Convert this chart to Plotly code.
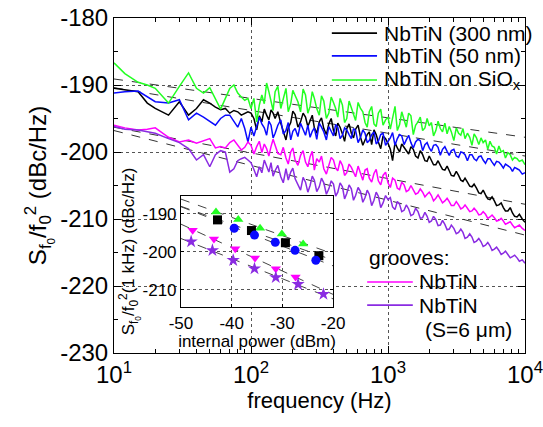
import numpy as np
import plotly.graph_objects as go

# ---------------- main spectra (frequency in Hz, noise in dBc/Hz) -------------
freq = [10, 12, 15, 17.5, 20, 25, 30, 35, 40, 45, 50, 55, 60, 65, 70, 75, 80, 85, 90, 95,
        100, 105, 110, 115, 120, 125, 130, 135, 140, 145, 150, 157, 165, 172, 180, 187, 195, 202,
        210, 220, 230, 240, 250, 260, 270, 280, 290, 302, 315, 327, 340, 355, 370, 385, 400, 415,
        430, 447, 465, 482, 500, 520, 540, 560, 580, 605, 630, 655, 680, 705, 730, 760, 790, 820,
        850, 885, 920, 960, 1000,
        1040, 1080, 1125, 1170, 1215, 1260, 1310, 1360, 1415, 1470, 1530, 1590, 1655, 1720, 1790,
        1860, 1930, 2000, 2075, 2150, 2235, 2320, 2410, 2500, 2600, 2700, 2800, 2900, 3025, 3150,
        3275, 3400, 3525, 3650, 3800, 3950, 4100, 4250, 4425, 4600, 4775, 4950, 5150, 5350, 5550,
        5750, 5975, 6200, 6450, 6700, 6950, 7200, 7500, 7800, 8100, 8400, 8750, 9100, 9550, 10000]

nbtin_siox = [-186.7, -188.3, -189.6, -190.0, -190.5, -192.7, -190.2, -188.2, -190.5, -191.2,
              -190.4, -192.0, -193.6, -192.0, -190.5, -190.0, -191.2, -191.8, -192.3, -192.0,
              -193.5, -192.0, -195.5, -193.0, -191.5, -192.8, -189.7, -191.0, -192.5, -193.8,
              -191.0, -190.2, -193.5, -192.0, -190.5, -194.0, -192.8, -190.8, -191.6, -192.5,
              -194.0, -190.6, -191.5, -194.2, -193.2, -191.0, -192.0, -193.5, -194.5, -191.6,
              -192.4, -195.0, -194.2, -191.8, -192.6, -193.5, -194.8, -192.0, -193.0, -195.6,
              -195.0, -192.4, -193.4, -194.3, -195.3, -192.6, -193.5, -194.0, -195.6, -196.3,
              -194.0, -193.2, -195.8, -196.2, -194.2, -193.6, -196.0, -195.2, -194.8,
              -196.6, -195.0, -193.2, -196.8, -195.9, -194.0, -195.1, -196.3, -194.2, -194.6,
              -197.4, -196.0, -195.5, -194.8, -196.8, -196.4, -195.0, -196.1, -195.6, -197.6,
              -196.8, -195.4, -196.5, -197.0, -195.7, -197.3, -196.2, -197.0, -198.3, -196.4,
              -197.2, -197.5, -196.5, -198.0, -197.2, -197.8, -199.0, -197.3, -197.9, -198.9,
              -197.9, -198.6, -198.2, -199.6, -198.4, -199.1, -199.3, -200.3, -199.1, -200.0,
              -199.8, -200.9, -200.1, -200.4, -201.2, -200.8, -201.0, -201.4, -201.2, -201.9]

nbtin_50 = [-191.2, -191.0, -190.9, -191.8, -192.5, -192.7, -192.2, -195.2, -194.2, -194.8,
            -195.5, -196.0, -195.0, -194.5, -194.5, -195.5, -196.3, -195.0, -196.5, -198.5,
            -196.3, -197.6, -196.0, -194.8, -195.8, -196.4, -197.5, -195.4, -196.0, -197.9,
            -197.2, -196.0, -195.2, -197.3, -196.8, -195.6, -198.2, -196.9, -196.5, -197.7,
            -195.7, -196.6, -197.5, -196.0, -197.8, -196.9, -196.4, -198.1, -195.7, -196.3,
            -197.0, -198.2, -196.2, -196.9, -197.6, -195.9, -196.3, -198.0, -197.5, -196.4,
            -196.7, -197.4, -198.0, -196.5, -196.8, -198.6, -197.8, -196.7, -197.2, -198.6,
            -198.3, -197.4, -197.0, -198.8, -198.4, -197.4, -197.2, -199.0, -198.5,
            -197.9, -197.1, -199.0, -198.0, -197.4, -197.6, -198.9, -198.2, -197.5, -198.6,
            -199.4, -198.5, -198.1, -198.3, -199.8, -198.9, -198.6, -199.4, -199.9, -199.0,
            -198.9, -199.3, -200.5, -199.6, -199.2, -199.9, -200.5, -199.8, -199.6, -200.6,
            -200.8, -200.0, -200.1, -200.4, -201.3, -200.4, -200.4, -201.0, -201.3, -200.7,
            -200.6, -201.2, -201.7, -201.0, -201.0, -201.5, -202.0, -201.4, -201.5, -201.9,
            -202.4, -201.8, -202.0, -202.3, -202.9, -202.3, -202.5, -202.7, -203.3, -203.1]

nbtin_300 = [-190.5, -190.7, -191.0, -192.7, -193.5, -194.5, -192.5, -194.5, -193.5, -192.2,
             -192.7, -193.3, -193.7, -193.5, -194.2, -193.8, -194.0, -194.5, -194.3, -194.0,
             -194.2, -195.0, -196.7, -194.6, -195.5, -193.6, -194.5, -195.2, -193.7, -194.2,
             -195.0, -194.0, -195.7, -196.8, -198.2, -196.4, -195.6, -193.9, -194.4, -196.3,
             -195.5, -194.2, -194.8, -196.2, -195.3, -194.5, -196.4, -197.2, -195.5, -194.9,
             -196.5, -197.4, -195.8, -195.0, -196.8, -197.6, -195.7, -196.3, -197.3, -198.4,
             -196.5, -195.8, -197.2, -197.9, -196.6, -196.0, -197.8, -199.0, -198.2, -197.4,
             -197.0, -198.9, -196.7, -197.4, -198.5, -199.5, -197.6, -198.0, -198.7,
             -199.6, -201.3, -198.6, -199.4, -200.0, -198.8, -199.3, -199.9, -200.3, -199.2,
             -199.6, -200.6, -200.9, -199.8, -200.4, -201.3, -201.4, -200.6, -201.2, -201.9,
             -201.9, -201.3, -202.0, -202.6, -202.7, -202.1, -202.8, -203.5, -203.6, -202.9,
             -203.5, -204.2, -204.4, -203.9, -204.5, -205.1, -205.2, -204.8, -205.4, -206.1,
             -206.2, -205.7, -206.4, -207.0, -207.1, -206.7, -207.3, -208.0, -207.9, -207.6,
             -208.3, -208.8, -208.8, -208.3, -209.1, -209.6, -209.7, -209.3, -210.0, -210.5]

grooves = [-196.0, -196.4, -196.7, -196.6, -196.4, -197.8, -198.5, -198.2, -198.7, -198.3,
           -198.0, -199.4, -199.2, -199.4, -198.6, -198.2, -199.0, -199.7, -199.3, -198.5,
           -199.0, -200.3, -199.2, -198.4, -200.1, -198.8, -199.5, -200.6, -199.2, -198.1,
           -199.0, -200.2, -200.4, -199.3, -200.9, -201.8, -200.0, -199.4, -201.2, -202.0,
           -200.5, -199.8, -201.5, -202.2, -200.7, -199.9, -202.7, -201.0, -201.5, -200.6,
           -202.5, -203.3, -202.0, -200.8, -201.2, -202.4, -202.8, -201.3, -202.0, -203.5,
           -203.1, -201.8, -202.3, -203.0, -203.7, -202.1, -203.2, -204.2, -202.7, -202.5,
           -203.9, -204.5, -203.2, -202.6, -204.3, -204.9, -203.5, -203.0, -204.6,
           -205.3, -203.9, -204.2, -205.4, -205.6, -204.5, -204.9, -205.9, -205.7, -205.0,
           -205.6, -206.3, -206.1, -205.5, -206.0, -206.7, -206.3, -206.0, -206.5, -207.3,
           -206.9, -206.4, -207.0, -207.6, -207.3, -206.9, -207.4, -208.0, -208.0, -207.4,
           -207.9, -208.5, -208.3, -207.9, -208.4, -208.9, -208.8, -208.4, -208.8, -209.4,
           -209.3, -208.9, -209.3, -209.9, -209.7, -209.4, -209.8, -210.3, -210.2, -209.9,
           -210.3, -210.8, -210.6, -210.4, -210.9, -211.3, -211.1, -210.9, -211.4, -211.7]

grooves_s6 = [-196.2, -196.6, -196.7, -197.0, -197.2, -198.0, -198.6, -199.5, -201.2, -200.4,
              -202.2, -200.4, -199.8, -200.0, -203.0, -202.5, -201.3, -201.0, -200.8, -201.2,
              -201.6, -202.6, -203.7, -202.2, -203.1, -201.2, -202.0, -203.0, -201.6, -203.6,
              -202.8, -202.0, -203.7, -204.6, -202.5, -204.2, -203.0, -202.4, -204.0, -204.8,
              -205.7, -203.8, -204.5, -206.0, -205.0, -203.6, -204.2, -205.9, -205.2, -203.9,
              -204.6, -206.3, -205.5, -204.3, -204.8, -206.6, -206.0, -204.6, -205.2, -207.0,
              -206.2, -204.9, -205.5, -207.2, -206.5, -205.3, -205.9, -207.5, -206.8, -205.7,
              -206.3, -208.0, -207.2, -206.0, -206.6, -208.3, -207.6, -206.5, -207.1,
              -206.8, -208.2, -208.6, -207.4, -207.8, -208.9, -208.7, -207.9, -208.5, -209.5,
              -209.3, -208.4, -208.9, -209.9, -209.8, -209.0, -209.6, -210.5, -210.3, -209.6,
              -210.1, -211.0, -210.9, -210.2, -210.8, -211.6, -211.5, -210.9, -211.4, -212.2,
              -212.0, -211.5, -212.0, -212.9, -212.7, -212.2, -212.7, -213.5, -213.3, -212.9,
              -213.4, -214.1, -213.9, -213.5, -214.0, -214.7, -214.5, -214.2, -214.7, -215.3,
              -215.1, -214.8, -215.3, -215.8, -215.6, -215.4, -215.8, -216.3, -216.1, -216.6]

for _s in (nbtin_siox, nbtin_50, nbtin_300, grooves, grooves_s6):
    assert len(_s) == len(freq), (len(_s), len(freq))

# straight 1/f fits in the main panel (values at 10 Hz and 10 kHz)
fit_freq = [10, 10000]
fit_lines = [[-189.1, -197.8], [-190.4, -200.6], [-196.3, -207.8], [-196.8, -212.4]]

# tick labels
x_tickvals = [10, 100, 1000, 10000]
x_ticktext = ["10<sup>1</sup>", "10<sup>2</sup>", "10<sup>3</sup>", "10<sup>4</sup>"]
y_tickvals = [-180, -190, -200, -210, -220, -230]
y_ticktext = ["-180", "-190", "-200", "-210", "-220", "-230"]

# ---------------- inset: noise at 1 kHz vs internal power -------------------
p_siox = [-43.1, -38.7, -34.4, -30.1, -25.9]
n_siox = [-189.5, -191.5, -193.8, -195.3, -197.9]
p_300 = [-42.8, -36.1, -29.4, -22.8]
n_300 = [-191.6, -194.4, -197.6, -201.0]
p_50 = [-39.5, -35.5, -31.4, -27.5, -23.4]
n_50 = [-193.8, -195.6, -197.5, -199.6, -202.2]
p_gr = [-47.7, -43.5, -39.3, -35.4, -31.3, -27.4]
n_gr = [-194.3, -196.6, -199.2, -201.6, -204.4, -206.6]
p_gr6 = [-48.0, -43.8, -39.7, -35.5, -31.3, -26.9, -21.9]
n_gr6 = [-197.3, -199.6, -202.2, -204.4, -206.7, -208.5, -211.1]
ix_tickvals = [-50, -40, -30, -20]
ix_ticktext = ["-50", "-40", "-30", "-20"]
iy_tickvals = [-190, -200, -210]
iy_ticktext = ["-190", "-200", "-210"]

C_BLACK, C_BLUE, C_GREEN, C_MAG, C_PUR = "#000000", "#0a0aff", "#22ff22", "#ff00ff", "#8a2be2"
FONT = "Arial"

fig = go.Figure()

for fy in fit_lines:
    fig.add_trace(go.Scatter(x=fit_freq, y=fy, mode="lines", showlegend=False,
                             line=dict(color="#333333", width=1, dash="dash"), hoverinfo="skip"))

main_series = [
    (nbtin_300, C_BLACK, "NbTiN (300 nm)"),
    (nbtin_50, C_BLUE, "NbTiN (50 nm)"),
    (nbtin_siox, C_GREEN, "NbTiN on SiO<sub>x</sub>"),
    (grooves, C_MAG, "NbTiN"),
    (grooves_s6, C_PUR, "NbTiN"),
]
for ys, col, name in main_series:
    fig.add_trace(go.Scatter(x=freq, y=ys, mode="lines", name=name, showlegend=False,
                             line=dict(color=col, width=1.5)))

# inset
inset_sets = [
    (p_siox, n_siox, C_GREEN, "triangle-up"),
    (p_300, n_300, C_BLACK, "square"),
    (p_50, n_50, C_BLUE, "circle"),
    (p_gr, n_gr, C_MAG, "triangle-down"),
    (p_gr6, n_gr6, C_PUR, "star"),
]
px_fit = np.array([-50.0, -20.0])
for px, ny, col, sym in inset_sets:
    k, b = np.polyfit(px, ny, 1)
    fig.add_trace(go.Scatter(x=px_fit, y=k * px_fit + b, mode="lines", xaxis="x2", yaxis="y2",
                             showlegend=False, line=dict(color="#444444", width=1, dash="dash")))
for px, ny, col, sym in inset_sets:
    fig.add_trace(go.Scatter(x=px, y=ny, mode="markers", xaxis="x2", yaxis="y2", showlegend=False,
                             marker=dict(color=col, symbol=sym, size=9 if sym != "star" else 10,
                                         line=dict(width=0))))

# hand-placed legend (paper coordinates of the main plot area)
legend_rows = [
    (C_BLACK, "NbTiN (300 nm)", 0.530, 0.640, 0.652, 0.955),
    (C_BLUE, "NbTiN (50 nm)", 0.530, 0.640, 0.652, 0.887),
    (C_GREEN, "NbTiN on SiO<sub>x</sub>", 0.530, 0.640, 0.652, 0.815),
    (C_MAG, "NbTiN", 0.616, 0.727, 0.737, 0.212),
    (C_PUR, "NbTiN", 0.616, 0.727, 0.737, 0.143),
]
LEG_SIZE = 21
for col, txt, lx0, lx1, tx, yy in legend_rows:
    fig.add_shape(type="line", xref="paper", yref="paper", x0=lx0, x1=lx1, y0=yy, y1=yy,
                  line=dict(color=col, width=1.6))
    fig.add_annotation(xref="paper", yref="paper", x=tx, y=yy, text=txt, showarrow=False,
                       xanchor="left", yanchor="middle", font=dict(size=LEG_SIZE))
fig.add_annotation(xref="paper", yref="paper", x=0.616, y=0.284, text="grooves:", showarrow=False,
                   xanchor="left", yanchor="middle", font=dict(size=LEG_SIZE))
fig.add_annotation(xref="paper", yref="paper", x=0.752, y=0.069, text="(S=6 \u03bcm)", showarrow=False,
                   xanchor="left", yanchor="middle", font=dict(size=LEG_SIZE))

axis_common = dict(showline=True, linecolor="black", linewidth=1, mirror="allticks",
                   ticks="inside", tickcolor="black", showgrid=True, gridcolor="#555555",
                   griddash="dot", gridwidth=1, zeroline=False, automargin=False)

fig.update_layout(
    width=543, height=427, autosize=False,
    margin=dict(l=114, r=18, t=18, b=74),
    paper_bgcolor="white", plot_bgcolor="white",
    font=dict(family=FONT, color="black"),
    xaxis=dict(type="log", range=[1, 4], tickvals=x_tickvals, ticktext=x_ticktext,
               ticklen=7, tickfont=dict(size=24), ticklabeloverflow="allow",
               minor=dict(ticks="inside", ticklen=4, tickcolor="black", dtick="D1", showgrid=False),
               title=dict(text="frequency (Hz)", font=dict(size=22), standoff=4),
               **axis_common),
    yaxis=dict(range=[-230, -180], tickvals=y_tickvals, ticktext=y_ticktext, ticklen=7,
               tickfont=dict(size=24), ticklabeloverflow="allow",
               minor=dict(ticks="inside", ticklen=4, tickcolor="black", dtick=5, tick0=-180,
                          showgrid=False),
               title=dict(text="S<sub>f<sub>0</sub></sub>/f<sub>0</sub><sup>2</sup> (dBc/Hz)",
                          font=dict(size=24), standoff=6),
               **axis_common),
    xaxis2=dict(domain=[0.163, 0.533], anchor="y2", range=[-50, -20], tickvals=ix_tickvals,
                ticktext=ix_ticktext, ticklen=3, tickfont=dict(size=17),
                title=dict(text="internal power (dBm)", font=dict(size=17), standoff=0),
                **axis_common),
    yaxis2=dict(domain=[0.137, 0.469], anchor="x2", range=[-214.5, -185.3],
                tickvals=iy_tickvals, ticktext=iy_ticktext, ticklen=3, tickfont=dict(size=17),
                title=dict(text="S<sub>f<sub>0</sub></sub>/f<sub>0</sub><sup>2</sup>(1 kHz) (dBc/Hz)",
                           font=dict(size=17), standoff=2),
                **axis_common),
    showlegend=False,
)

# remove the default 8 px page margin so the 543x427 figure fills the window exactly
fig.write_html("out.html", config={"displayModeBar": False},
               post_script="document.body.style.margin='0px';")
